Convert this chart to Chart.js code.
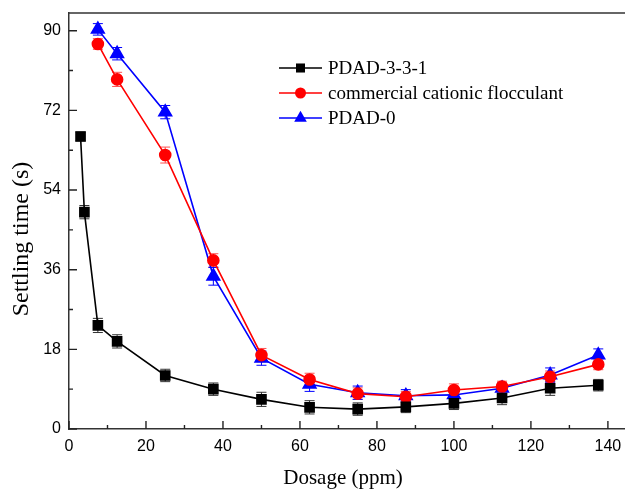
<!DOCTYPE html>
<html lang="en">
<head>
    <meta charset="UTF-8">
    <title>Settling time vs dosage</title>
    <script src="https://cdn.jsdelivr.net/npm/chart.js"></script>
    <style>
        html, body { margin: 0; padding: 0; background: #fff; overflow: hidden; }
        #wrap { width: 640px; height: 491px; }
    </style>
</head>
<body>
    <div id="wrap">
        <canvas id="myChart" width="640" height="491"></canvas>
    </div>

    <script>
        // dosage (ppm) for each series
        const dosageA = [3, 4, 7.5, 12.5, 25, 37.5, 50, 62.5, 75, 87.5, 100, 112.5, 125, 137.5];
        const dosageB = [7.5, 12.5, 25, 37.5, 50, 62.5, 75, 87.5, 100, 112.5, 125, 137.5];

        // settling time (s) and error
        const pdad331 = [66.1, 49.0, 23.4, 19.8, 12.1, 9.0, 6.7, 4.9, 4.5, 5.0, 5.8, 7.0, 9.2, 9.9];
        const pdad331Err = [1.0, 1.5, 1.6, 1.5, 1.4, 1.4, 1.6, 1.5, 1.4, 1.3, 1.4, 1.5, 1.6, 1.3];

        const commercial = [87.0, 79.0, 61.9, 38.1, 16.7, 11.2, 8.0, 7.3, 8.8, 9.6, 11.8, 14.6];
        const commercialErr = [1.2, 1.6, 1.8, 1.5, 1.5, 1.4, 1.3, 1.2, 1.4, 1.2, 1.3, 1.2];

        const pdad0 = [90.3, 84.8, 71.6, 34.5, 16.0, 10.1, 8.2, 7.5, 7.7, 9.2, 12.2, 16.7];
        const pdad0Err = [1.3, 1.4, 1.5, 2.0, 1.6, 1.6, 1.5, 1.4, 1.4, 1.2, 1.6, 1.4];

        const seriesNames = ['PDAD-3-3-1', 'commercial cationic flocculant', 'PDAD-0'];
        const xTicks = [0, 20, 40, 60, 80, 100, 120, 140];
        const yTicks = [0, 18, 36, 54, 72, 90];
        const xTitle = 'Dosage (ppm)';
        const yTitle = 'Settling time (s)';

        function pairs(xs, ys, es) {
            return xs.map((x, i) => ({ x: x, y: ys[i], err: es[i] }));
        }

        // error bars drawn through the scales
        const errorBars = {
            id: 'errorBars',
            beforeDatasetsDraw(chart) {
                const ctx = chart.ctx;
                const xs = chart.scales.x, ys = chart.scales.y;
                chart.data.datasets.forEach((ds) => {
                    ctx.save();
                    ctx.strokeStyle = ds.errColor;
                    ctx.lineWidth = 1;
                    ds.data.forEach((p) => {
                        const px = xs.getPixelForValue(p.x);
                        const top = ys.getPixelForValue(p.y + p.err);
                        const bot = ys.getPixelForValue(p.y - p.err);
                        ctx.beginPath();
                        ctx.moveTo(px, top); ctx.lineTo(px, bot);
                        ctx.moveTo(px - 5, top); ctx.lineTo(px + 5, top);
                        ctx.moveTo(px - 5, bot); ctx.lineTo(px + 5, bot);
                        ctx.stroke();
                    });
                    ctx.restore();
                });
            }
        };

        // inward ticks, top border, axis titles and legend
        const frame = {
            id: 'frame',
            afterDraw(chart) {
                const ctx = chart.ctx;
                const a = chart.chartArea;
                const xs = chart.scales.x, ys = chart.scales.y;
                ctx.save();
                ctx.strokeStyle = '#333';
                ctx.lineWidth = 1.5;
                ctx.beginPath();
                ctx.moveTo(a.left, a.top); ctx.lineTo(a.right, a.top);
                ctx.stroke();

                ctx.strokeStyle = '#222';
                ctx.lineWidth = 1.4;
                ctx.beginPath();
                for (let v = 0; v <= 140; v += 10) {
                    const px = xs.getPixelForValue(v);
                    const len = v % 20 === 0 ? 8 : 4;
                    ctx.moveTo(px, a.bottom); ctx.lineTo(px, a.bottom - len);
                }
                for (let v = 0; v <= 90; v += 9) {
                    const py = ys.getPixelForValue(v);
                    const len = v % 18 === 0 ? 8 : 4;
                    ctx.moveTo(a.left, py); ctx.lineTo(a.left + len, py);
                }
                ctx.stroke();

                // axis titles
                ctx.fillStyle = '#000';
                ctx.textAlign = 'center';
                ctx.textBaseline = 'middle';
                ctx.font = '21px "Liberation Serif", "Times New Roman", serif';
                ctx.fillText(xTitle, 343, 478);

                ctx.save();
                ctx.translate(22, 239);
                ctx.rotate(-Math.PI / 2);
                ctx.font = '24px "Liberation Serif", "Times New Roman", serif';
                ctx.fillText(yTitle, 0, 0);
                ctx.restore();

                // legend
                ctx.font = '19px "Liberation Serif", "Times New Roman", serif';
                ctx.textBaseline = 'middle';
                ctx.textAlign = 'left';
                chart.data.datasets.forEach((ds, i) => {
                    const y = 68 + i * 25;
                    ctx.strokeStyle = ds.borderColor;
                    ctx.lineWidth = 1.6;
                    ctx.beginPath();
                    ctx.moveTo(279, y); ctx.lineTo(322, y);
                    ctx.stroke();
                    ctx.fillStyle = ds.backgroundColor;
                    Chart.helpers.drawPoint(ctx, {
                        pointStyle: ds.pointStyle,
                        radius: ds.pointRadius,
                        rotation: 0,
                        borderWidth: 0
                    }, 300.5, y);
                    ctx.fillStyle = '#000';
                    ctx.fillText(ds.label, 328, y + 1);
                });
                ctx.restore();
            }
        };

        const tickFont = { family: '"Liberation Sans", Arial, sans-serif', size: 16 };

        const ctx = document.getElementById('myChart').getContext('2d');
        new Chart(ctx, {
            type: 'line',
            data: {
                datasets: [{
                    label: seriesNames[0],
                    data: pairs(dosageA, pdad331, pdad331Err),
                    borderColor: '#000000',
                    backgroundColor: '#000000',
                    errColor: '#333333',
                    pointStyle: 'rect',
                    pointRadius: 6.4,
                    borderWidth: 1.6
                }, {
                    label: seriesNames[1],
                    data: pairs(dosageB, commercial, commercialErr),
                    borderColor: '#ff0000',
                    backgroundColor: '#ff0000',
                    errColor: '#ff5050',
                    pointStyle: 'circle',
                    pointRadius: 5.5,
                    borderWidth: 1.6
                }, {
                    label: seriesNames[2],
                    data: pairs(dosageB, pdad0, pdad0Err),
                    borderColor: '#0000ff',
                    backgroundColor: '#0000ff',
                    errColor: '#0000ff',
                    pointStyle: 'triangle',
                    pointRadius: 7.3,
                    borderWidth: 1.6
                }]
            },
            options: {
                responsive: false,
                animation: false,
                layout: { padding: { top: 13, left: 0, right: 9, bottom: 0 } },
                plugins: {
                    legend: { display: false },
                    tooltip: { enabled: false }
                },
                elements: {
                    line: { tension: 0 },
                    point: { borderWidth: 0 }
                },
                scales: {
                    x: {
                        type: 'linear',
                        min: 0,
                        max: 146,
                        afterBuildTicks: (s) => { s.ticks = xTicks.map(v => ({ value: v })); },
                        afterFit: (s) => { s.height = 62; s.paddingLeft = 0; s.paddingRight = 0; },
                        grid: { display: false, drawTicks: false },
                        border: { display: true, color: '#333', width: 1.5 },
                        ticks: { font: tickFont, color: '#000', padding: 8, maxRotation: 0 },
                        title: { display: false }
                    },
                    y: {
                        min: 0,
                        max: 94,
                        afterBuildTicks: (s) => { s.ticks = yTicks.map(v => ({ value: v })); },
                        afterFit: (s) => { s.width = 69; s.paddingTop = 0; s.paddingBottom = 0; },
                        grid: { display: false, drawTicks: false },
                        border: { display: true, color: '#333', width: 1.5 },
                        ticks: { font: tickFont, color: '#000', padding: 8 },
                        title: { display: false }
                    }
                }
            },
            plugins: [errorBars, frame]
        });
    </script>
</body>
</html>
